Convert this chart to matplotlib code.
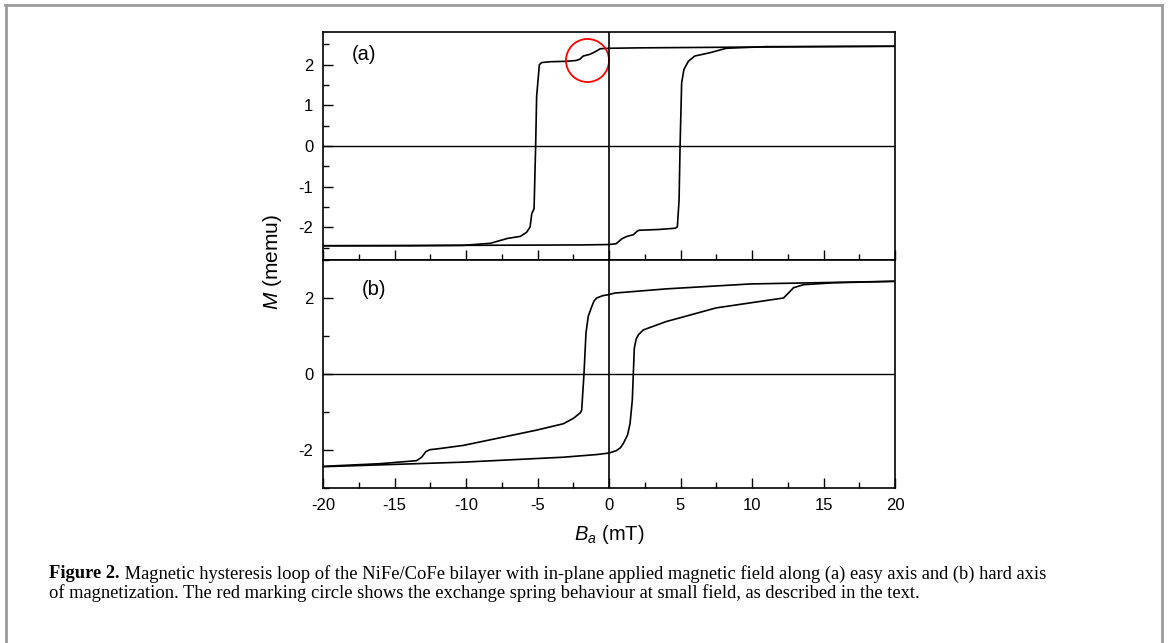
import matplotlib
matplotlib.use("Agg")
import matplotlib.pyplot as plt
from matplotlib.ticker import MultipleLocator
from matplotlib.lines import Line2D

plt.rcParams['font.family'] = ['Liberation Sans', 'DejaVu Sans']
plt.rcParams['axes.unicode_minus'] = False
plt.rcParams['mathtext.fontset'] = 'custom'
plt.rcParams['mathtext.it'] = 'Liberation Sans:italic'
plt.rcParams['mathtext.rm'] = 'Liberation Sans'

# (a) easy axis: field (mT) and moment (memu)
a_down_B = [20, 10, 2, 0, -0.6, -0.9, -1.1, -1.35, -1.8, -2.05, -2.3, -3.0, -4.1, -4.7, -4.87,
            -4.94, -5.06, -5.13, -5.24, -5.4, -5.52, -5.76, -6.2, -7.1, -8.3, -10.2, -14, -20]
a_down_M = [2.45, 2.43, 2.41, 2.40, 2.39, 2.33, 2.29, 2.25, 2.21, 2.13, 2.10, 2.08, 2.07, 2.05, 2.0,
            1.71, 1.22, 0.0, -1.54, -1.66, -1.99, -2.12, -2.22, -2.27, -2.39, -2.44, -2.45, -2.45]
a_up_B = [-20, -10, -2, 0, 0.5, 0.9, 1.25, 1.7, 1.98, 2.1, 3.5, 4.62, 4.78, 4.9, 4.97,
          5.08, 5.24, 5.55, 6.0, 7.05, 8.2, 11.0, 20]
a_up_M = [-2.45, -2.44, -2.43, -2.42, -2.40, -2.28, -2.22, -2.18, -2.09, -2.07, -2.05, -2.02, -1.99, -1.33, 0.0,
          1.55, 1.88, 2.08, 2.21, 2.29, 2.40, 2.44, 2.45]

# (b) hard axis
b_down_B = [20, 9.9, 4.0, 0.4, 0, -0.45, -0.86, -1.05, -1.2, -1.45, -1.61, -1.75, -1.91, -2.0, -2.5, -3.2,
            -5.1, -7.9, -10.2, -12.0, -12.5, -12.8, -13.1, -13.45, -16.0, -20]
b_down_M = [2.44, 2.37, 2.24, 2.13, 2.09, 2.06, 2.0, 1.92, 1.78, 1.52, 1.08, 0.0, -0.95, -1.02, -1.17, -1.31,
            -1.48, -1.70, -1.88, -1.97, -1.99, -2.04, -2.19, -2.28, -2.36, -2.43]
b_up_B = [-20, -10.2, -3.2, -0.86, 0, 0.5, 0.8, 1.0, 1.3, 1.47, 1.63, 1.70, 1.77, 1.9, 2.05, 2.4, 4.0, 7.5,
          12.2, 12.55, 12.9, 13.6, 15.7, 20]
b_up_M = [-2.44, -2.32, -2.19, -2.12, -2.08, -2.02, -1.94, -1.83, -1.6, -1.31, -0.69, 0.0, 0.68, 0.92, 1.03, 1.16,
          1.38, 1.74, 2.0, 2.13, 2.27, 2.35, 2.40, 2.44]

# exchange spring marker position
spring_B, spring_M = -1.56, 2.12

caption_bold = "Figure 2."
caption_1 = (" Magnetic hysteresis loop of the NiFe/CoFe bilayer with in-plane applied "
             "magnetic field along (a) easy axis and (b) hard axis")
caption_2 = ("of magnetization. The red marking circle shows the exchange spring behaviour "
             "at small field, as described in the text.")

W, H = 1168, 643
fig = plt.figure(figsize=(W / 100, H / 100), dpi=100)

left, width = 323 / W, 572 / W
ax_a = fig.add_axes([left, 1 - 260 / H, width, 228 / H])
ax_b = fig.add_axes([left, 1 - 488 / H, width, 228 / H])

lw = 1.2
ax_a.plot(a_down_B, a_down_M, color='black', lw=lw)
ax_a.plot(a_up_B, a_up_M, color='black', lw=lw)
ax_b.plot(b_down_B, b_down_M, color='black', lw=lw)
ax_b.plot(b_up_B, b_up_M, color='black', lw=lw)

ax_a.plot([spring_B], [spring_M], 'o', ms=31, mfc='none', mec='red', mew=1.3)

for ax, lim in ((ax_a, 2.8), (ax_b, 3.0)):
    ax.set_xlim(-20, 20)
    ax.set_ylim(-lim, lim)
    ax.axhline(0, color='black', lw=1.0)
    ax.axvline(0, color='black', lw=1.2)
    ax.xaxis.set_major_locator(MultipleLocator(5))
    ax.xaxis.set_minor_locator(MultipleLocator(2.5))
    ax.tick_params(which='both', direction='in', top=False, right=False,
                   labelsize=12, width=1.0, pad=7)
    ax.tick_params(which='major', length=7)
    ax.tick_params(which='minor', length=4)
    for s in ax.spines.values():
        s.set_linewidth(1.2)

ax_a.yaxis.set_major_locator(MultipleLocator(1))
ax_a.yaxis.set_minor_locator(MultipleLocator(0.5))
ax_a.tick_params(labelbottom=False)
ax_b.yaxis.set_major_locator(MultipleLocator(2))
ax_b.yaxis.set_minor_locator(MultipleLocator(1))

ax_a.text(0.05, 0.9, '(a)', transform=ax_a.transAxes, fontsize=14.5, va='center', ha='left')
ax_b.text(0.068, 0.87, '(b)', transform=ax_b.transAxes, fontsize=14.5, va='center', ha='left')

fig.text(272 / W, 1 - 262 / H, r'$\it{M}$ (memu)', rotation=90, fontsize=15,
         ha='center', va='center')
fig.text(609 / W, 1 - 535 / H, r'$\it{B}_{\it{a}}$ (mT)', fontsize=14.5,
         ha='center', va='center')

# gray page frame
frame = dict(color='#9a9a9a', lw=2.0, transform=fig.transFigure)
fig.add_artist(Line2D([5 / W, 1162 / W], [1 - 5 / H, 1 - 5 / H], **frame))
fig.add_artist(Line2D([6 / W, 6 / W], [0, 1 - 5 / H], **frame))
fig.add_artist(Line2D([1162 / W, 1162 / W], [0, 1 - 5 / H], **frame))

serif = ['Liberation Serif', 'DejaVu Serif']
cap_size = 13.3
x0, y1, y2 = 49 / W, 1 - 574 / H, 1 - 593 / H
tb = fig.text(x0, y1, caption_bold, family=serif, weight='bold', fontsize=cap_size,
              va='center', ha='left')
r = fig.canvas.get_renderer()
bb = tb.get_window_extent(renderer=r)
fig.text(bb.x1 / W, y1, caption_1, family=serif, fontsize=cap_size, va='center', ha='left')
fig.text(x0, y2, caption_2, family=serif, fontsize=cap_size, va='center', ha='left')

fig.savefig('out.png', dpi=100)
